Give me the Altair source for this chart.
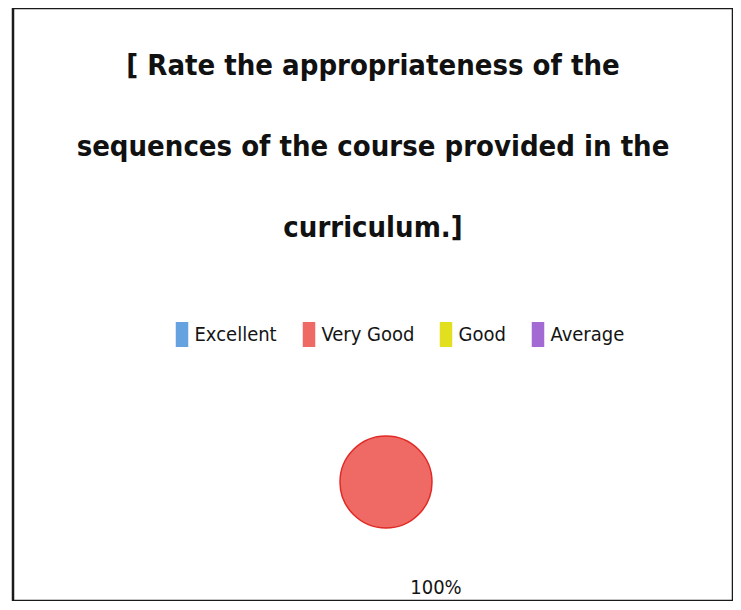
import altair as alt
import pandas as pd

categories = ["Excellent", "Very Good", "Good", "Average"]
values = [0, 100, 0, 0]
fill_colors = ["#64a2e0", "#ef6a64", "#e2df1e", "#a26ad2"]
title_lines = [
    "[ Rate the appropriateness of the",
    "sequences of the course provided in the",
    "curriculum.]",
]

df = pd.DataFrame({"category": categories, "value": values})

FONT = "DejaVu Sans Condensed, sans-serif"

color = alt.Color(
    "category:N",
    scale=alt.Scale(domain=categories, range=fill_colors),
    sort=categories,
    legend=alt.Legend(
        title=None,
        orient="none",
        direction="horizontal",
        legendX=156.5,
        legendY=314,
        symbolType="M-0.5,-1H0.5V1H-0.5Z",
        symbolSize=625,
        symbolStrokeWidth=0,
        labelFont=FONT,
        labelFontSize=20,
        labelColor="#141414",
        labelOffset=0,
        columnPadding=19,
    ),
)

base = alt.Chart(df).transform_joinaggregate(
    total="sum(value)"
).transform_calculate(
    pct="datum.value / datum.total"
)

pie = base.transform_filter("datum.value > 0").mark_arc(
    radius=46, stroke="#e02a26", strokeWidth=1.5
).encode(
    theta=alt.Theta("value:Q", stack=True),
    color=color,
    order=alt.Order("category:N", sort="ascending"),
    x=alt.value(373),
    y=alt.value(474),
)

label = base.transform_filter("datum.value > 0").mark_text(
    radius=106, font=FONT, fontSize=20, color="#141414", dx=50
).encode(
    theta=alt.Theta("value:Q", stack=True),
    text=alt.Text("pct:Q", format=".0%"),
    x=alt.value(373),
    y=alt.value(474),
)

chart = alt.layer(pie, label).properties(
    width=720,
    height=593,
    padding={"left": 5, "top": 0, "right": 0, "bottom": 0},
    autosize=alt.AutoSizeParams(type="none"),
    background="white",
    title=alt.TitleParams(
        text=title_lines,
        font=FONT,
        fontSize=29,
        fontWeight="bold",
        lineHeight=81,
        color="#111111",
        anchor="middle",
        offset=-235,
    ),
).configure_view(
    stroke="#1a1a1a", strokeWidth=2.5
)

chart.save("out.html", embed_options={"renderer": "svg", "actions": False})
